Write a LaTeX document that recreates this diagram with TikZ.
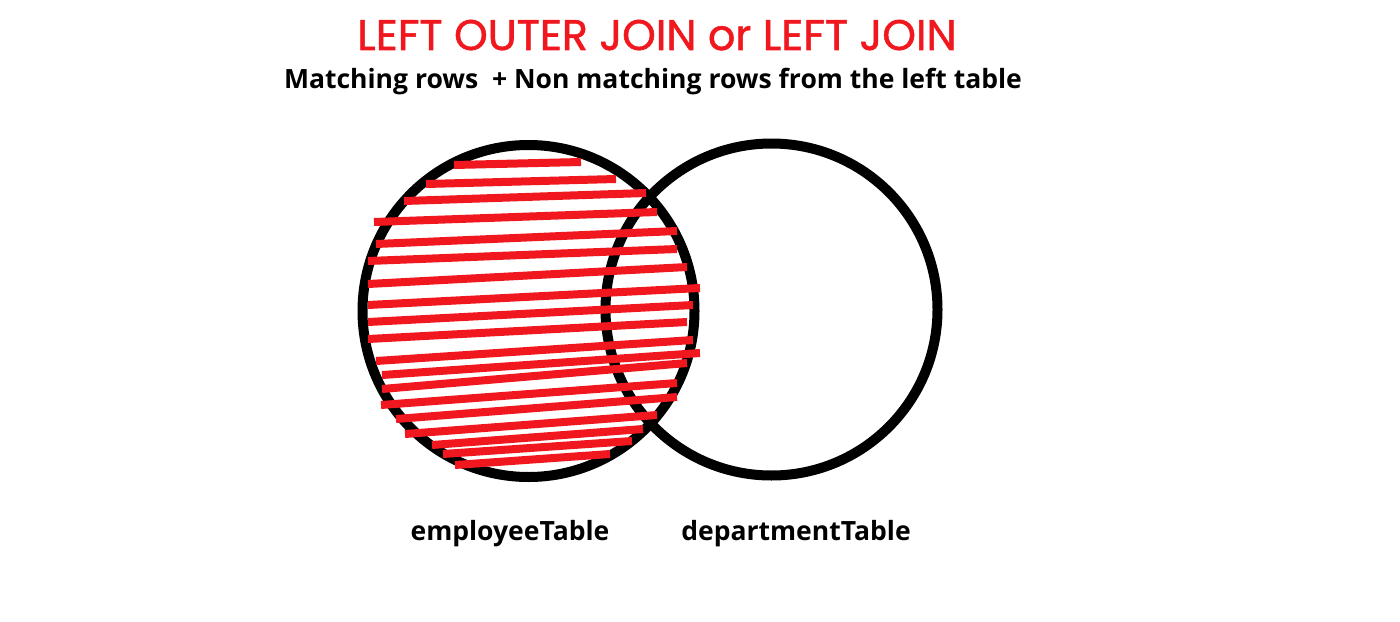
\documentclass[tikz,border=0pt]{standalone}
\usepackage{fontspec}
\setmainfont{Open Sans}
\newfontfamily\titlefont[BoldFont={Poppins}, BoldFeatures={FakeBold=1.2}]{Poppins}
\definecolor{joinred}{RGB}{240,24,30}
\tikzset{
  setring/.style={line width=0.2cm, black},
  stripe/.style={line width=0.16cm, joinred},
  tablelabel/.style={font=\bfseries\fontsize{15.1}{18}\selectfont, anchor=base},
}
\begin{document}
\begin{tikzpicture}[x=0.02cm, y=-0.02cm]
% Fix the page to the reference size
\useasboundingbox (0,0) rectangle (1400,622);

% Draw the title and the subtitle
\node[joinred, font=\titlefont\bfseries\fontsize{24.4}{28}\selectfont, anchor=base] (title) at (657,50) {LEFT OUTER JOIN or LEFT JOIN};
\node[tablelabel] (subtitle) at (653,88) {Matching rows\ \ + Non matching rows from the left table};

% Draw the two tables as circles
\draw[setring] (528.5,311) circle[radius=166];
\draw[setring] (771.5,309.5) circle[radius=166];

% Draw the red hatching over the left table
\foreach \xa/\ya/\xb/\yb in {454/165/581/162, 426/184/616/179, 404/201/646/193,
  374/222/657/212, 376/244/677/231, 368/261/677/249, 368/284/687/267,
  368/305/700/288, 368/322/693/305, 368/339/687/322, 376/361/693/340,
  382/375/700/353, 382/389/687/363, 381/405/677/383, 396/419/677/397,
  405/434/657/415, 432/445/643/429, 443/454/632/441, 455/465/610/454} {
  \draw[stripe] (\xa,\ya) -- (\xb,\yb);
}

% Add labels for the tables
\node[tablelabel] (emp) at (510,540) {employeeTable};
\node[tablelabel] (dept) at (796,540) {departmentTable};
\end{tikzpicture}
\end{document}
